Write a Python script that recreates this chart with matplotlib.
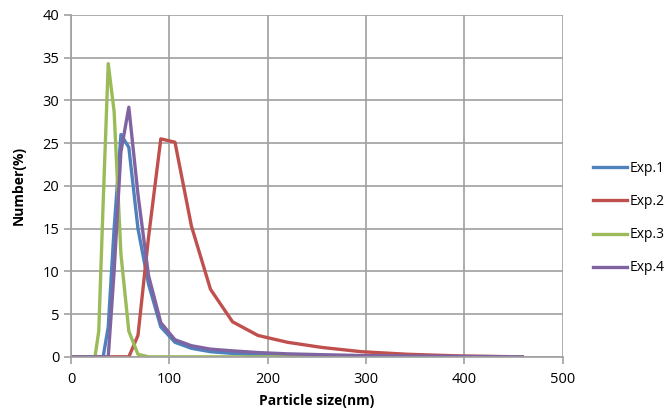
import numpy as np
import matplotlib
matplotlib.use('Agg')
import matplotlib.pyplot as plt

# ---------- DATA ----------
size_nm = [0, 24.36, 28.21, 32.67, 37.84, 43.82, 50.75, 58.77, 68.06, 78.82,
           91.28, 105.7, 122.4, 141.8, 164.2, 190.1, 220.2, 255.0, 295.3,
           342.0, 396.1, 458.7]

exp1 = [0, 0, 0, 0, 3.5, 15.0, 26.0, 24.5, 15.0, 8.5,
        3.5, 1.7, 1.0, 0.6, 0.4, 0.25, 0.15, 0.1, 0.05,
        0.02, 0.01, 0]
exp2 = [0, 0, 0, 0, 0, 0, 0, 0, 2.5, 14.0,
        25.5, 25.1, 15.3, 7.9, 4.1, 2.5, 1.7, 1.1, 0.6,
        0.3, 0.1, 0]
exp3 = [0, 0, 3.0, 18.0, 34.3, 28.7, 12.0, 3.0, 0.3, 0,
        0, 0, 0, 0, 0, 0, 0, 0, 0,
        0, 0, 0]
exp4 = [0, 0, 0, 0, 0, 10.0, 24.0, 29.2, 19.0, 9.5,
        4.0, 2.0, 1.3, 0.9, 0.7, 0.5, 0.35, 0.25, 0.15,
        0.1, 0.05, 0]

labels = ['Exp.1', 'Exp.2', 'Exp.3', 'Exp.4']
colors = ['#4F81BD', '#C0504D', '#9BBB59', '#8064A2']

plt.rcParams['font.family'] = ['Open Sans', 'DejaVu Sans']

fig = plt.figure(figsize=(6.7, 4.13), dpi=100)
ax = fig.add_axes([0.106, 0.136, 0.734, 0.828])

for ys, lab, c in zip([exp1, exp2, exp3, exp4], labels, colors):
    ax.plot(size_nm, ys, color=c, linewidth=2.4, label=lab, solid_joinstyle='round')

ax.set_xlim(0, 500)
ax.set_ylim(0, 40)
ax.set_xticks(np.arange(0, 501, 100))
ax.set_yticks(np.arange(0, 41, 5))
ax.grid(True, color='#A0A0A0', linewidth=1.2)
ax.set_axisbelow(True)

for s in ['top', 'right']:
    ax.spines[s].set_visible(False)
for s in ['left', 'bottom']:
    ax.spines[s].set_color('#A0A0A0')
    ax.spines[s].set_linewidth(1.2)
ax.tick_params(axis='both', colors='#A0A0A0', length=5, width=1.2,
               labelcolor='black', labelsize=10.5)
ax.tick_params(axis='x', pad=6)

ax.set_xlabel('Particle size(nm)', fontsize=10, fontweight='bold', labelpad=5)
ax.set_ylabel('Number(%)', fontsize=10, fontweight='bold', labelpad=12)

ax.legend(loc='center left', bbox_to_anchor=(1.035, 0.405), frameon=False,
          fontsize=10, handlelength=2.5, handletextpad=0.2, labelspacing=1.3)

fig.savefig('out.png', dpi=100)
